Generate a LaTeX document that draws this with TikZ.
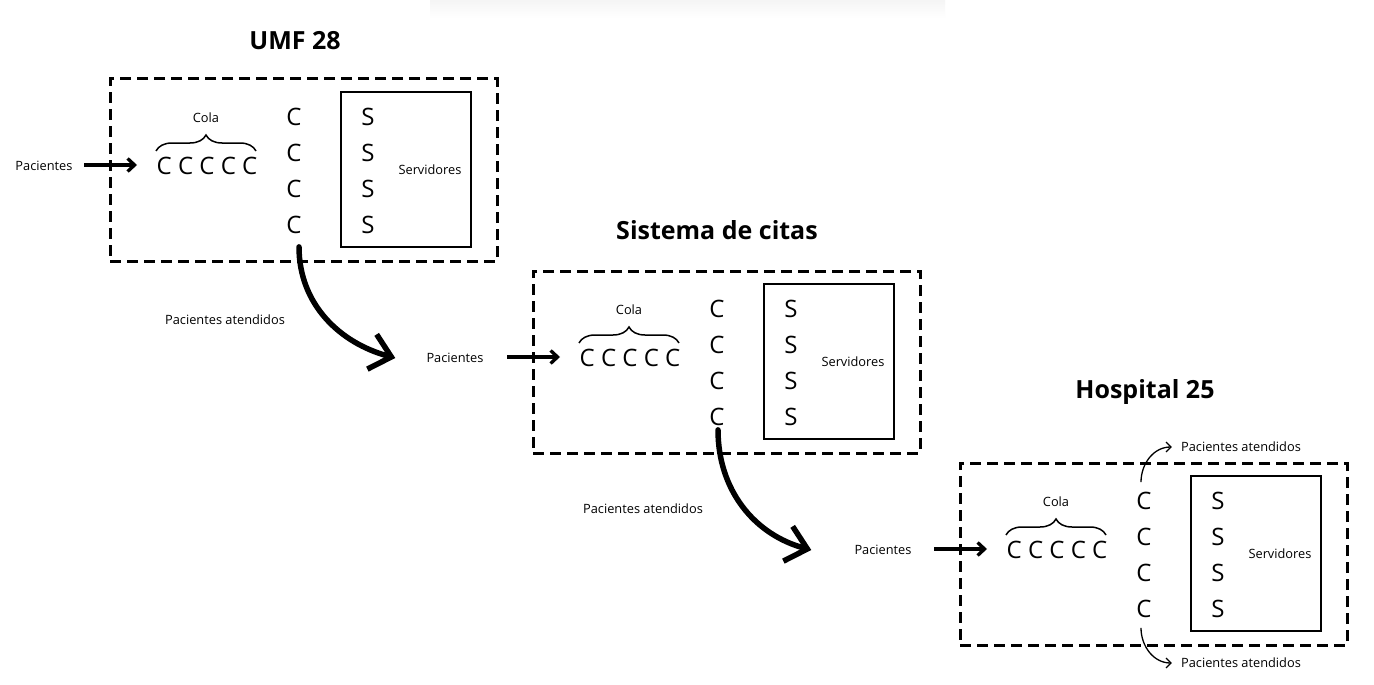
\documentclass[tikz,border=0pt]{standalone}
\usepackage{fontspec}
\setmainfont{Open Sans}
\usetikzlibrary{arrows.meta,decorations.pathreplacing}
\tikzset{
  lbl/.style={font=\fontsize{12.8}{14}\selectfont, inner sep=0pt, text depth=0pt},
  big/.style={font=\fontsize{24}{28}\selectfont, inner sep=0pt, text depth=0pt},
  ttl/.style={font=\bfseries\fontsize{25}{30}\selectfont, inner sep=0pt, text depth=0pt},
  dashbox/.style={draw, line width=3pt, dash pattern=on 11pt off 6pt, inner sep=0pt, outer sep=0pt, minimum width=387pt, minimum height=182pt},
  srvbox/.style={draw, line width=1.5pt, inner sep=0pt, outer sep=0pt, minimum width=130pt, minimum height=155pt},
  inarrow/.style={line width=3.3pt, -{Straight Barb[length=7pt,width=13pt]}},
  bigarrow/.style={line width=5.5pt, line cap=round, -{Straight Barb[length=20pt,width=36pt]}},
  smallarrow/.style={line width=1.3pt, -{Straight Barb[length=5pt,width=10pt]}},
  bracestyle/.style={line width=1.5pt, decorate, decoration={brace, amplitude=16pt}}
}
\newcommand\qblock[4]{%
\begin{scope}[shift={(#2,#3)}]
  \node[dashbox] (#1box) at (303.5,-170) {};
  \node[srvbox] (#1srv) at (406,-169.5) {};
  \node[big] (#1q) at (207,-166) {C C C C C};
  \coordinate (#1bl) at (156,-151);
  \coordinate (#1br) at (256,-151);
  \draw[bracestyle] (#1bl) -- (#1br);
  \node[lbl] (#1cola) at (206,-118) {Cola};
  \node[big] (#1c1) at (294,-117) {C};
  \node[big] (#1c2) at (294,-153) {C};
  \node[big] (#1c3) at (294,-189) {C};
  \node[big] (#1c4) at (294,-225) {C};
  \node[big] (#1s1) at (368,-117) {S};
  \node[big] (#1s2) at (368,-153) {S};
  \node[big] (#1s3) at (368,-189) {S};
  \node[big] (#1s4) at (368,-225) {S};
  \node[lbl] (#1servidores) at (430,-170) {Servidores};
  \node[lbl] (#1pac) at (#4,-166) {Pacientes};
  \coordinate (#1in) at (84,-165);
  \coordinate (#1tip) at (137,-165);
  \draw[inarrow] (#1in) -- (#1tip);
\end{scope}}
\begin{document}
\begin{tikzpicture}[x=1pt,y=1pt]
\useasboundingbox (0,0) rectangle (1374,-685);
\fill[white] (0,0) rectangle (1374,-685);
\shade[top color=black!4, bottom color=white] (430,0) rectangle (945,-18);

\node[ttl] (t1) at (295,-40) {UMF 28};
\node[ttl] (t2) at (717,-230) {Sistema de citas};
\node[ttl] (t3) at (1145,-389) {Hospital 25};

\qblock{a}{0}{0}{44}
\qblock{b}{423}{-192}{32}
\qblock{c}{850}{-384}{33}

\node[lbl] (at1) at (225,-320) {Pacientes atendidos};
\node[lbl] (at2) at (643,-509) {Pacientes atendidos};
\node[lbl] (at3) at (1241,-447) {Pacientes atendidos};
\node[lbl] (at4) at (1241,-663) {Pacientes atendidos};

\draw[bigarrow] ([shift={(5,-13)}]ac4.south) to[out=-90,in=165] ([xshift=-31pt]bpac.west);
\draw[bigarrow] ([shift={(1,-4)}]bc4.south) to[out=-90,in=165] ([xshift=-43pt]cpac.west);

\draw[smallarrow] ([shift={(-3,10)}]cc1.north) to[out=90,in=180] ([xshift=-9pt]at3.west);
\draw[smallarrow] ([shift={(-3,-10)}]cc4.south) to[out=-90,in=180] ([xshift=-9pt]at4.west);
\end{tikzpicture}
\end{document}
